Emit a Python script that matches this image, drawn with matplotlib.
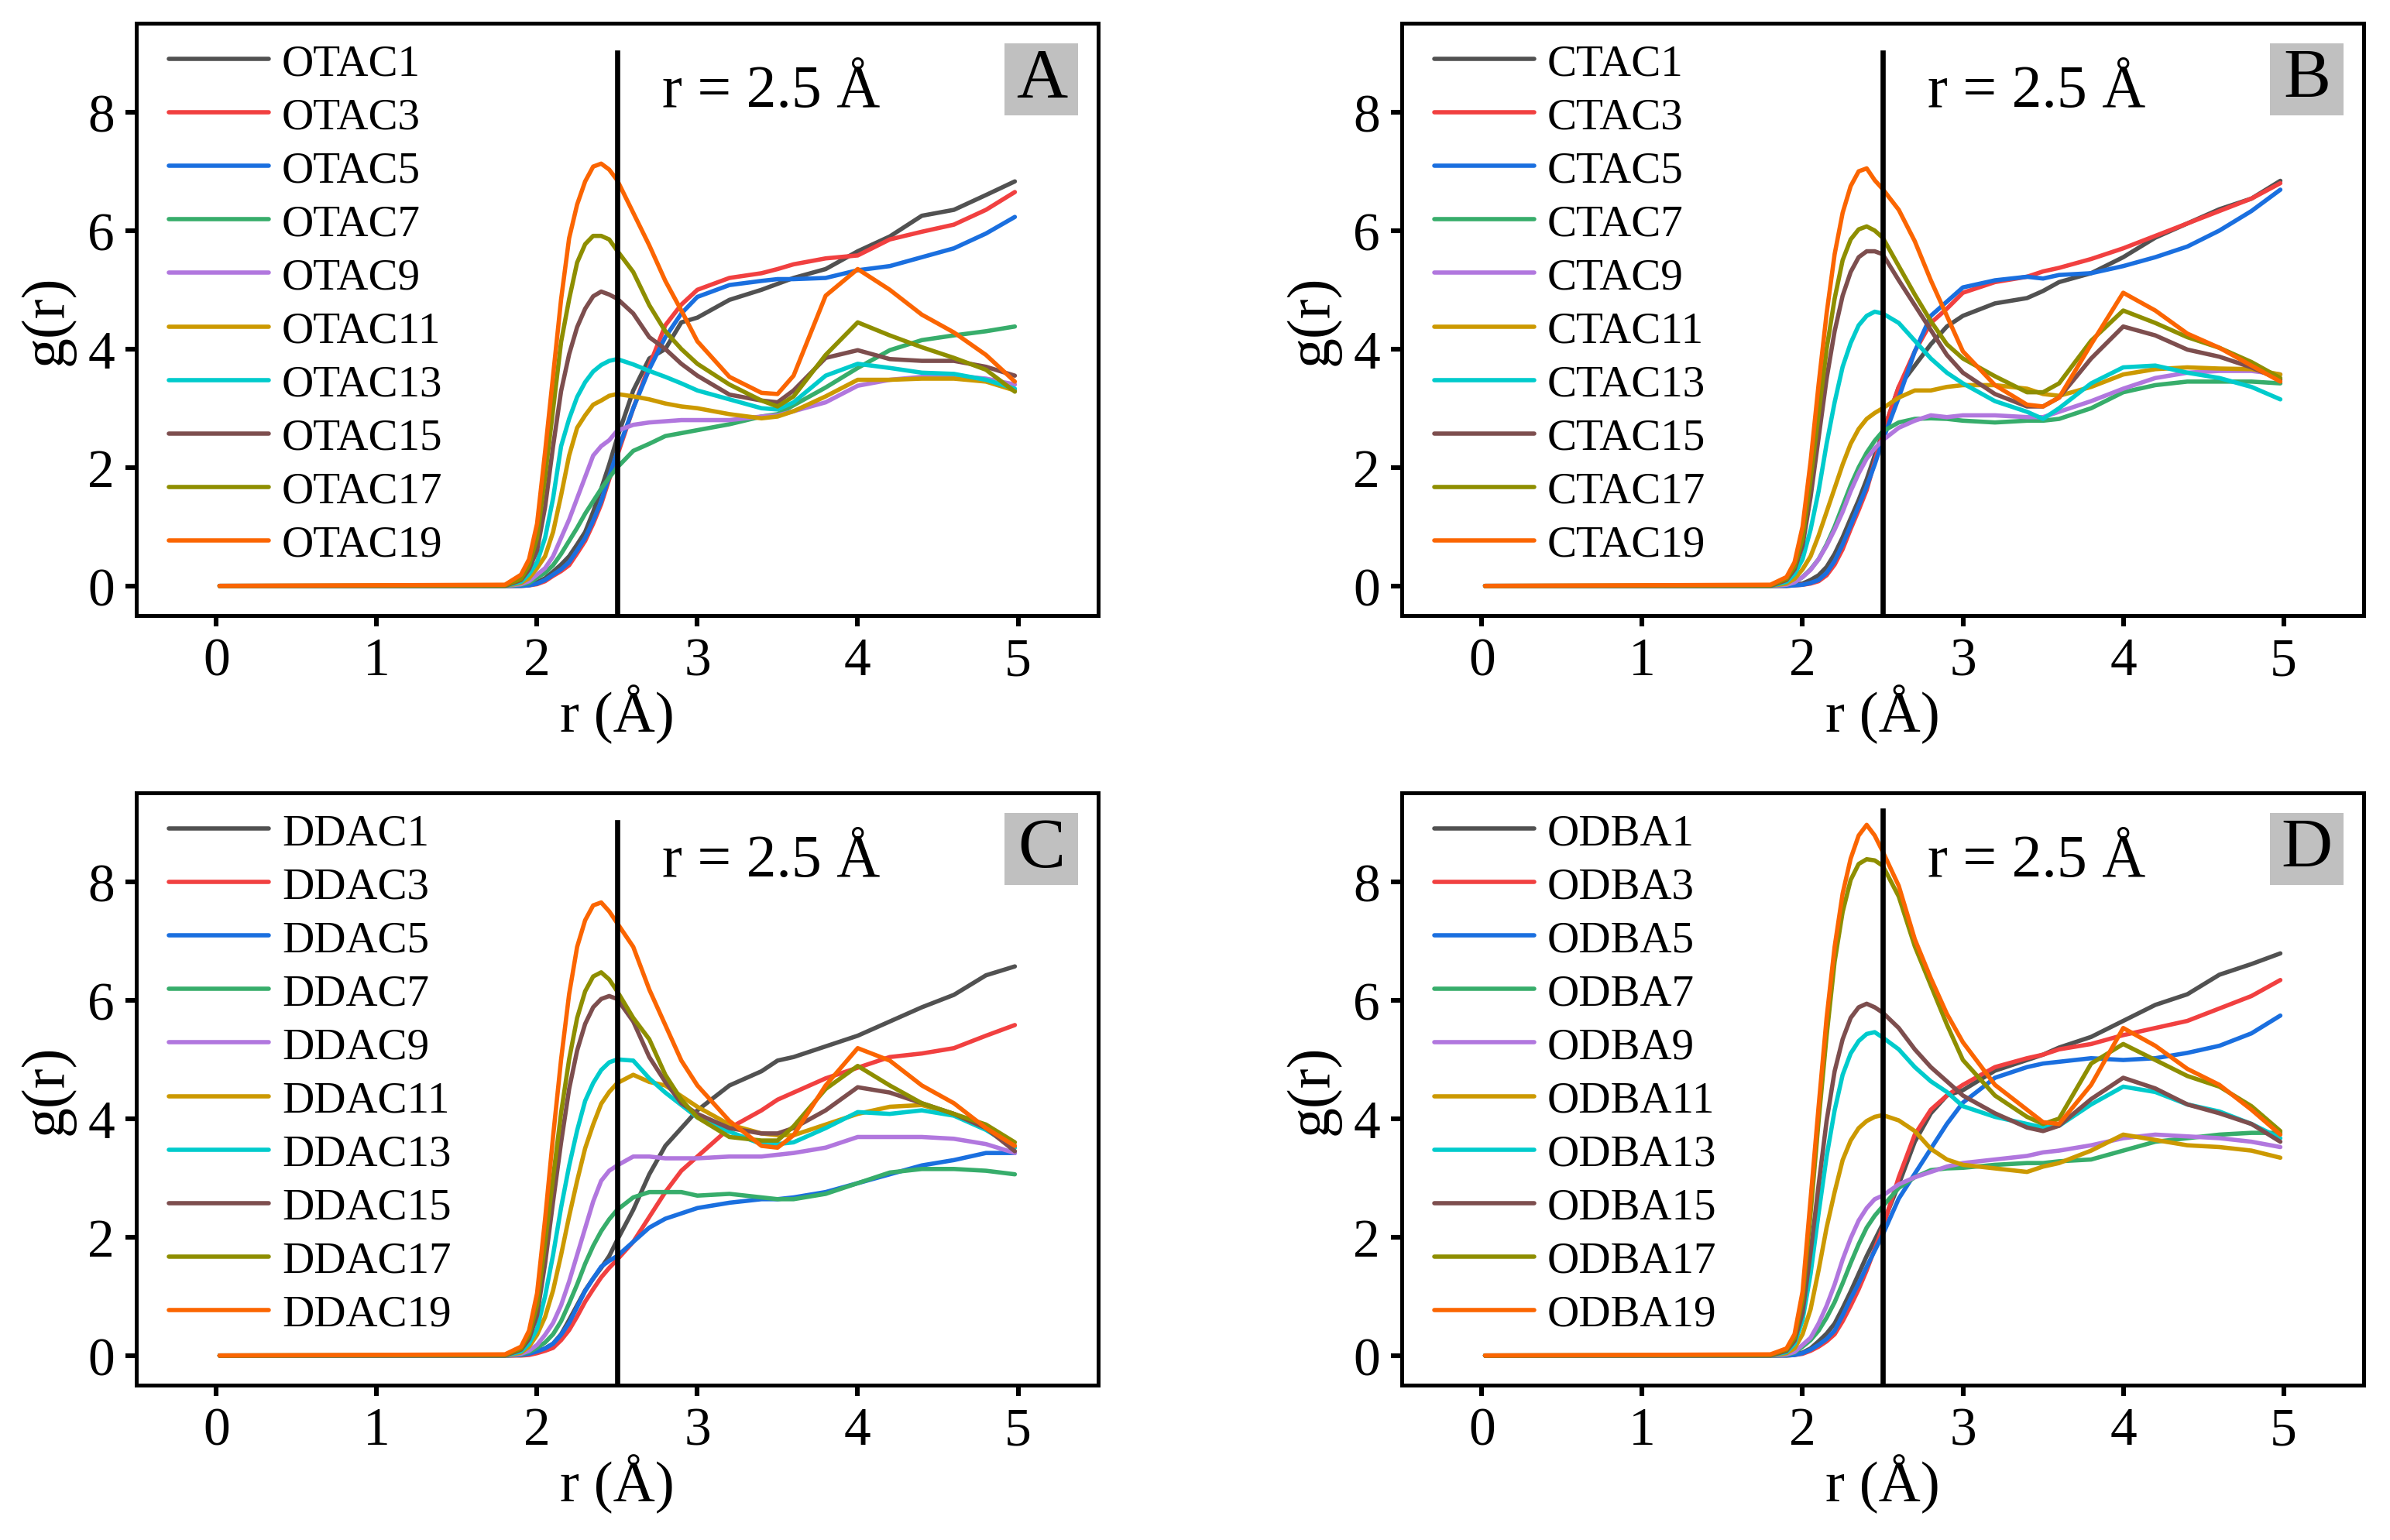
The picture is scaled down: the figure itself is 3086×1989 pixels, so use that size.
import numpy as np
import matplotlib
matplotlib.use("Agg")
import matplotlib.pyplot as plt
from matplotlib.patches import Rectangle

plt.rcParams['font.family'] = ['Liberation Serif', 'DejaVu Serif']

# r grid (Angstrom) used for every curve
r = [0.02, 1.8, 1.9, 1.95, 2.0, 2.05, 2.1, 2.15, 2.2, 2.25, 2.3, 2.35, 2.4, 2.45, 2.5,
     2.6, 2.7, 2.8, 2.9, 3.0, 3.2, 3.4, 3.5, 3.6, 3.8, 4.0, 4.2, 4.4, 4.6, 4.8, 4.98]

chain = [1, 3, 5, 7, 9, 11, 13, 15, 17, 19]
colors = ['#515151', '#F14040', '#1A6FDF', '#37AD6B', '#B177DE',
          '#CC9900', '#00CBCC', '#7D4E4E', '#8E8E00', '#FB6501']

# panel A: OTAC
otac = [
    [0, 0, 0.01, 0.02, 0.06, 0.13, 0.24, 0.36, 0.50, 0.70, 0.91, 1.25, 1.64, 2.05, 2.50, 3.30, 3.84, 4.00, 4.45, 4.53, 4.83, 5.00, 5.10, 5.20, 5.35, 5.65, 5.90, 6.25, 6.35, 6.60, 6.83],
    [0, 0, 0.00, 0.01, 0.03, 0.08, 0.17, 0.25, 0.35, 0.55, 0.76, 1.05, 1.38, 1.80, 2.20, 3.00, 3.72, 4.40, 4.75, 5.00, 5.20, 5.28, 5.35, 5.43, 5.53, 5.58, 5.85, 5.98, 6.10, 6.35, 6.65],
    [0, 0, 0.00, 0.01, 0.04, 0.10, 0.19, 0.28, 0.40, 0.60, 0.81, 1.10, 1.43, 1.85, 2.26, 3.00, 3.66, 4.20, 4.60, 4.88, 5.08, 5.15, 5.18, 5.18, 5.20, 5.33, 5.40, 5.55, 5.70, 5.95, 6.23],
    [0, 0, 0.02, 0.05, 0.14, 0.22, 0.35, 0.54, 0.76, 0.98, 1.22, 1.43, 1.64, 1.83, 2.00, 2.28, 2.40, 2.53, 2.58, 2.63, 2.73, 2.86, 2.90, 3.05, 3.35, 3.68, 3.98, 4.15, 4.23, 4.30, 4.38],
    [0, 0, 0.03, 0.08, 0.19, 0.30, 0.50, 0.81, 1.12, 1.48, 1.84, 2.20, 2.36, 2.46, 2.62, 2.72, 2.76, 2.78, 2.80, 2.80, 2.80, 2.86, 2.88, 2.95, 3.10, 3.38, 3.48, 3.53, 3.55, 3.50, 3.40],
    [0, 0, 0.05, 0.13, 0.30, 0.50, 0.91, 1.53, 2.20, 2.67, 2.88, 3.06, 3.13, 3.21, 3.24, 3.20, 3.15, 3.08, 3.03, 3.00, 2.90, 2.83, 2.86, 2.95, 3.20, 3.48, 3.48, 3.50, 3.50, 3.45, 3.30],
    [0, 0, 0.07, 0.20, 0.40, 0.81, 1.48, 2.36, 2.82, 3.19, 3.44, 3.62, 3.73, 3.80, 3.83, 3.74, 3.63, 3.53, 3.42, 3.30, 3.15, 3.00, 2.98, 3.10, 3.55, 3.75, 3.68, 3.60, 3.58, 3.48, 3.33],
    [0, 0, 0.10, 0.28, 0.60, 1.33, 2.36, 3.29, 3.91, 4.37, 4.68, 4.89, 4.97, 4.92, 4.85, 4.60, 4.20, 4.00, 3.75, 3.55, 3.23, 3.13, 3.10, 3.30, 3.85, 3.98, 3.83, 3.80, 3.80, 3.70, 3.55],
    [0, 0.01, 0.12, 0.35, 0.81, 1.84, 2.98, 4.12, 4.84, 5.46, 5.77, 5.91, 5.91, 5.85, 5.66, 5.30, 4.74, 4.30, 4.00, 3.75, 3.40, 3.13, 3.03, 3.20, 3.90, 4.45, 4.23, 4.03, 3.85, 3.65, 3.28],
    [0, 0.02, 0.19, 0.45, 1.05, 2.26, 3.55, 4.84, 5.87, 6.44, 6.83, 7.08, 7.13, 7.03, 6.85, 6.30, 5.75, 5.15, 4.65, 4.13, 3.53, 3.26, 3.24, 3.55, 4.90, 5.35, 5.00, 4.58, 4.28, 3.90, 3.45],
]

# panel B: CTAC
ctac = [
    [0, 0, 0.01, 0.02, 0.04, 0.10, 0.18, 0.32, 0.54, 0.82, 1.14, 1.45, 1.80, 2.20, 2.58, 3.36, 3.72, 4.08, 4.38, 4.56, 4.77, 4.86, 4.98, 5.13, 5.28, 5.55, 5.88, 6.12, 6.36, 6.54, 6.84],
    [0, 0, 0.00, 0.01, 0.02, 0.04, 0.08, 0.18, 0.36, 0.62, 0.96, 1.28, 1.62, 2.10, 2.58, 3.36, 3.96, 4.44, 4.68, 4.95, 5.13, 5.22, 5.31, 5.37, 5.52, 5.70, 5.91, 6.12, 6.33, 6.54, 6.80],
    [0, 0, 0.00, 0.01, 0.02, 0.05, 0.10, 0.22, 0.42, 0.70, 1.02, 1.35, 1.68, 2.05, 2.46, 3.18, 3.96, 4.56, 4.80, 5.04, 5.16, 5.22, 5.19, 5.25, 5.28, 5.40, 5.55, 5.73, 6.00, 6.33, 6.69],
    [0, 0, 0.02, 0.06, 0.15, 0.28, 0.45, 0.70, 1.00, 1.35, 1.70, 2.00, 2.25, 2.45, 2.61, 2.76, 2.82, 2.83, 2.82, 2.79, 2.76, 2.79, 2.79, 2.82, 3.00, 3.27, 3.39, 3.45, 3.45, 3.45, 3.42],
    [0, 0, 0.02, 0.06, 0.15, 0.27, 0.45, 0.68, 0.95, 1.25, 1.60, 1.90, 2.15, 2.32, 2.46, 2.67, 2.79, 2.88, 2.85, 2.88, 2.88, 2.85, 2.85, 2.94, 3.12, 3.33, 3.51, 3.60, 3.63, 3.63, 3.57],
    [0, 0, 0.04, 0.12, 0.28, 0.50, 0.85, 1.25, 1.65, 2.05, 2.40, 2.65, 2.82, 2.92, 3.00, 3.18, 3.30, 3.30, 3.36, 3.39, 3.39, 3.33, 3.24, 3.21, 3.36, 3.57, 3.66, 3.69, 3.67, 3.66, 3.57],
    [0, 0, 0.07, 0.20, 0.45, 0.95, 1.60, 2.40, 3.10, 3.70, 4.10, 4.40, 4.56, 4.63, 4.60, 4.44, 4.14, 3.84, 3.60, 3.42, 3.12, 2.94, 2.82, 3.00, 3.42, 3.69, 3.72, 3.60, 3.51, 3.36, 3.15],
    [0, 0, 0.10, 0.28, 0.68, 1.50, 2.50, 3.50, 4.30, 4.90, 5.30, 5.55, 5.65, 5.65, 5.60, 5.16, 4.74, 4.32, 3.90, 3.60, 3.24, 3.03, 3.03, 3.18, 3.84, 4.38, 4.23, 3.99, 3.87, 3.69, 3.48],
    [0, 0.01, 0.12, 0.33, 0.80, 1.80, 2.90, 4.00, 4.85, 5.50, 5.85, 6.02, 6.07, 6.00, 5.88, 5.40, 4.92, 4.47, 4.08, 3.84, 3.54, 3.27, 3.27, 3.42, 4.14, 4.65, 4.44, 4.20, 4.02, 3.78, 3.51],
    [0, 0.02, 0.15, 0.40, 1.00, 2.10, 3.40, 4.60, 5.60, 6.30, 6.75, 7.00, 7.05, 6.85, 6.70, 6.35, 5.82, 5.16, 4.56, 3.96, 3.39, 3.06, 3.03, 3.18, 4.08, 4.95, 4.65, 4.26, 4.02, 3.72, 3.45],
]

# panel C: DDAC
ddac = [
    [0, 0, 0.01, 0.03, 0.07, 0.12, 0.20, 0.36, 0.60, 0.85, 1.10, 1.30, 1.48, 1.68, 1.95, 2.46, 3.06, 3.54, 3.84, 4.14, 4.56, 4.80, 4.98, 5.04, 5.22, 5.40, 5.64, 5.88, 6.09, 6.42, 6.57],
    [0, 0, 0.00, 0.01, 0.04, 0.08, 0.13, 0.26, 0.43, 0.66, 0.91, 1.12, 1.32, 1.48, 1.62, 1.92, 2.34, 2.76, 3.12, 3.36, 3.84, 4.14, 4.32, 4.44, 4.68, 4.86, 5.04, 5.10, 5.19, 5.40, 5.58],
    [0, 0, 0.01, 0.03, 0.07, 0.12, 0.20, 0.35, 0.55, 0.82, 1.09, 1.30, 1.50, 1.60, 1.68, 1.92, 2.16, 2.31, 2.40, 2.49, 2.58, 2.64, 2.64, 2.67, 2.76, 2.91, 3.06, 3.21, 3.30, 3.42, 3.42],
    [0, 0, 0.02, 0.06, 0.13, 0.22, 0.36, 0.58, 0.88, 1.20, 1.55, 1.85, 2.10, 2.30, 2.46, 2.67, 2.76, 2.76, 2.76, 2.70, 2.73, 2.67, 2.64, 2.64, 2.73, 2.91, 3.09, 3.15, 3.15, 3.12, 3.06],
    [0, 0, 0.03, 0.08, 0.18, 0.35, 0.55, 0.85, 1.25, 1.70, 2.15, 2.60, 2.95, 3.12, 3.21, 3.36, 3.36, 3.33, 3.33, 3.33, 3.36, 3.36, 3.39, 3.42, 3.51, 3.69, 3.69, 3.69, 3.66, 3.57, 3.42],
    [0, 0, 0.05, 0.15, 0.35, 0.65, 1.10, 1.70, 2.35, 2.95, 3.50, 3.90, 4.25, 4.45, 4.60, 4.74, 4.62, 4.56, 4.38, 4.20, 3.90, 3.75, 3.72, 3.72, 3.90, 4.08, 4.20, 4.23, 4.08, 3.84, 3.54],
    [0, 0, 0.07, 0.20, 0.45, 1.00, 1.70, 2.50, 3.20, 3.80, 4.30, 4.60, 4.82, 4.95, 5.00, 4.98, 4.68, 4.44, 4.23, 4.02, 3.78, 3.57, 3.57, 3.60, 3.84, 4.11, 4.08, 4.14, 4.05, 3.81, 3.51],
    [0, 0, 0.10, 0.28, 0.68, 1.55, 2.60, 3.60, 4.50, 5.15, 5.60, 5.88, 6.02, 6.07, 6.02, 5.64, 5.04, 4.62, 4.26, 4.08, 3.84, 3.75, 3.75, 3.84, 4.14, 4.53, 4.44, 4.26, 4.08, 3.84, 3.45],
    [0, 0.01, 0.12, 0.35, 0.85, 1.90, 3.00, 4.10, 5.00, 5.70, 6.15, 6.40, 6.47, 6.35, 6.15, 5.70, 5.34, 4.74, 4.32, 4.02, 3.69, 3.63, 3.63, 3.87, 4.50, 4.89, 4.56, 4.26, 4.08, 3.90, 3.60],
    [0, 0.02, 0.15, 0.42, 1.05, 2.30, 3.70, 5.00, 6.10, 6.90, 7.35, 7.60, 7.65, 7.50, 7.30, 6.90, 6.18, 5.58, 4.98, 4.56, 3.96, 3.54, 3.51, 3.72, 4.56, 5.19, 4.98, 4.56, 4.26, 3.84, 3.54],
]

# panel D: ODBA
odba = [
    [0, 0, 0.01, 0.02, 0.05, 0.12, 0.24, 0.37, 0.54, 0.80, 1.08, 1.38, 1.68, 1.95, 2.22, 2.89, 3.61, 4.09, 4.39, 4.48, 4.81, 4.99, 5.08, 5.20, 5.38, 5.65, 5.92, 6.10, 6.43, 6.61, 6.79],
    [0, 0, 0.00, 0.01, 0.03, 0.08, 0.15, 0.24, 0.36, 0.58, 0.84, 1.12, 1.44, 1.80, 2.16, 3.01, 3.73, 4.15, 4.39, 4.57, 4.87, 5.02, 5.08, 5.17, 5.26, 5.41, 5.53, 5.65, 5.86, 6.07, 6.34],
    [0, 0, 0.00, 0.01, 0.04, 0.10, 0.18, 0.28, 0.42, 0.68, 0.96, 1.22, 1.50, 1.77, 2.04, 2.65, 3.07, 3.49, 3.91, 4.27, 4.69, 4.87, 4.93, 4.96, 5.02, 4.99, 5.02, 5.11, 5.23, 5.44, 5.74],
    [0, 0, 0.01, 0.05, 0.15, 0.26, 0.42, 0.64, 0.90, 1.22, 1.56, 1.88, 2.16, 2.36, 2.52, 2.83, 3.01, 3.13, 3.16, 3.17, 3.22, 3.25, 3.25, 3.28, 3.31, 3.46, 3.61, 3.67, 3.73, 3.76, 3.76],
    [0, 0, 0.02, 0.06, 0.18, 0.30, 0.54, 0.84, 1.20, 1.62, 1.98, 2.28, 2.49, 2.64, 2.70, 2.89, 3.01, 3.10, 3.19, 3.25, 3.31, 3.37, 3.43, 3.46, 3.55, 3.67, 3.73, 3.70, 3.67, 3.61, 3.52],
    [0, 0, 0.04, 0.12, 0.36, 0.78, 1.44, 2.16, 2.76, 3.30, 3.63, 3.84, 3.96, 4.03, 4.06, 3.97, 3.79, 3.49, 3.31, 3.22, 3.16, 3.10, 3.19, 3.25, 3.46, 3.73, 3.64, 3.55, 3.52, 3.46, 3.34],
    [0, 0, 0.06, 0.20, 0.60, 1.38, 2.40, 3.36, 4.14, 4.74, 5.10, 5.31, 5.43, 5.46, 5.37, 5.17, 4.87, 4.63, 4.45, 4.21, 4.03, 3.91, 3.85, 3.88, 4.24, 4.54, 4.45, 4.24, 4.12, 3.91, 3.67],
    [0, 0, 0.08, 0.25, 0.72, 1.74, 2.88, 3.96, 4.80, 5.34, 5.70, 5.88, 5.94, 5.88, 5.79, 5.53, 5.17, 4.87, 4.63, 4.39, 4.09, 3.85, 3.79, 3.88, 4.33, 4.69, 4.51, 4.24, 4.09, 3.91, 3.61],
    [0, 0.01, 0.10, 0.30, 0.96, 2.40, 3.96, 5.40, 6.65, 7.49, 8.03, 8.30, 8.38, 8.36, 8.27, 7.75, 6.91, 6.25, 5.59, 4.99, 4.39, 4.03, 3.91, 4.00, 4.93, 5.26, 4.99, 4.72, 4.54, 4.21, 3.79],
    [0, 0.02, 0.12, 0.36, 1.08, 2.64, 4.20, 5.70, 6.90, 7.80, 8.39, 8.78, 8.96, 8.78, 8.51, 7.93, 7.03, 6.37, 5.77, 5.29, 4.57, 4.15, 3.94, 3.91, 4.57, 5.53, 5.23, 4.84, 4.57, 4.15, 3.73],
]

panels = [
    ('OTAC', otac, 'A', 9.0),
    ('CTAC', ctac, 'B', 9.0),
    ('DDAC', ddac, 'C', 9.0),
    ('ODBA', odba, 'D', 9.2),
]

fig = plt.figure(figsize=(15.43, 9.95), dpi=200)
rects = [[0.0570, 0.600, 0.4025, 0.3844],
         [0.5865, 0.600, 0.4025, 0.3844],
         [0.0570, 0.1005, 0.4025, 0.3844],
         [0.5865, 0.1005, 0.4025, 0.3844]]

for (name, curves, letter, ltop), rect in zip(panels, rects):
    ax = fig.add_axes(rect)
    for n, g, c in zip(chain, curves, colors):
        ax.plot(r, g, color=c, lw=2.0, label=f'{name}{n}',
                solid_capstyle='round', solid_joinstyle='round')
    ax.plot([2.5, 2.5], [-0.5, ltop], color='black', lw=2.4)

    ax.set_xlim(-0.5, 5.5)
    ax.set_ylim(-0.5, 9.5)
    ax.set_xticks([0, 1, 2, 3, 4, 5])
    ax.set_yticks([0, 2, 4, 6, 8])
    ax.tick_params(direction='out', length=5, width=2.2, labelsize=25, pad=5,
                   top=False, right=False)
    for s in ax.spines.values():
        s.set_linewidth(1.8)
    ax.set_xlabel('r (Å)', fontsize=27, labelpad=-1)
    ax.set_ylabel('g(r)', fontsize=28, labelpad=6)

    ax.text(2.78, 8.1, 'r = 2.5 Å', fontsize=28, ha='left', va='baseline')
    ax.add_patch(Rectangle((0.9026, 0.8444), 0.0765, 0.1216, transform=ax.transAxes,
                           facecolor='#C0C0C0', edgecolor='none', zorder=3))
    ax.text(0.941, 0.905, letter, transform=ax.transAxes, fontsize=33,
            ha='center', va='center', zorder=4)

    ax.legend(loc='upper left', bbox_to_anchor=(0.034, 0.966), frameon=False,
              fontsize=20.5, borderaxespad=0, borderpad=0, labelspacing=0.3,
              handlelength=2.26, handletextpad=0.3)

fig.savefig('out.png', dpi=200)
